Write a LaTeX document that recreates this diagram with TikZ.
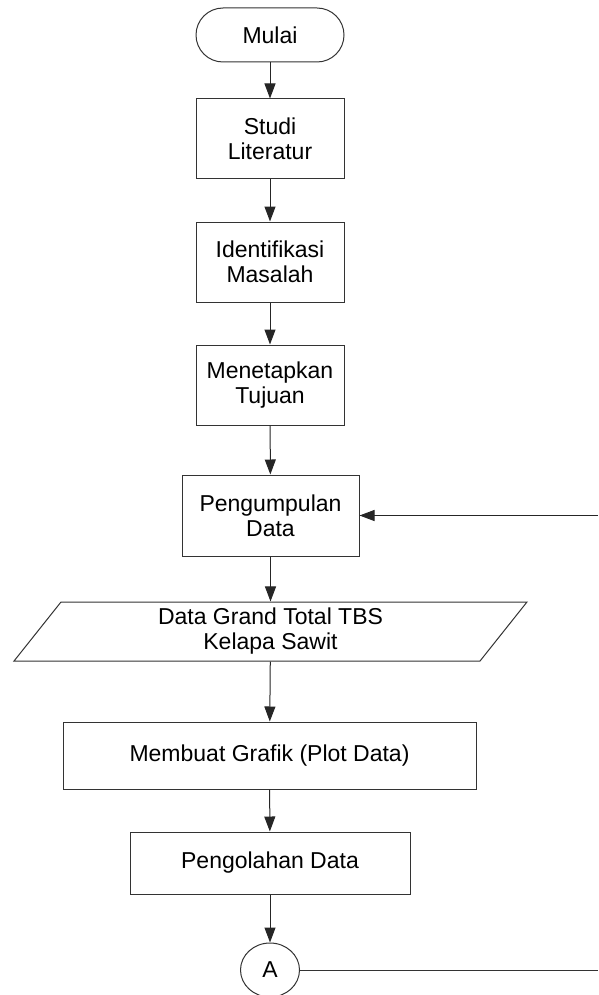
\documentclass[tikz,border=0pt]{standalone}
\usepackage{fontspec}
\setmainfont{Liberation Sans}
\usepackage{tikz}
\usetikzlibrary{shapes.geometric, arrows.meta, positioning}

\begin{document}
\begin{tikzpicture}[x=1pt, y=-1pt,
        base/.style={draw=black!80, line width=1pt, align=center, inner sep=0pt, font=\fontsize{23}{25}\selectfont},
        start/.style={base, rectangle, rounded corners=27pt, minimum width=148pt, minimum height=54pt},
        process/.style={base, rectangle, minimum width=148pt, minimum height=80pt},
        io/.style={base, trapezium, trapezium left angle=61.5, trapezium right angle=118.5, trapezium stretches=true, minimum width=515pt, minimum height=59pt},
        connector/.style={base, ellipse, minimum width=59pt, minimum height=54pt},
        arrow/.style={-{Triangle[length=15pt, width=11pt]}, line width=1pt, draw=black!85},
        line/.style={line width=1pt, draw=black!80}
    ]
    \useasboundingbox (0,0) rectangle (598,995);

    \node (mulai) at (270, 35) [start] {Mulai};

    \node (studi) at (270, 139) [process] {Studi\\Literatur};
    \node (masalah) at (270, 262) [process] {Identifikasi\\Masalah};
    \node (tujuan) at (270, 385) [process] {Menetapkan\\Tujuan};

    \node (kumpul) at (270.5, 515.5) [process, minimum width=177pt, minimum height=81pt] {Pengumpulan\\Data};

    \node (tbs) at (270.5, 631.5) [io] {Data Grand Total TBS\\Kelapa Sawit};

    \node (grafik) at (269.5, 755.5) [process, minimum width=413pt, minimum height=67pt] {Membuat Grafik (Plot Data)};
    \node (olah) at (270, 863) [process, minimum width=280pt, minimum height=62pt] {Pengolahan Data};

    \node (a) at (270, 970) [connector] {A};

    \coordinate (kembali) at (598, 515.5);
    \coordinate (lanjut) at (598, 970);

    \draw [arrow] (mulai) -- (studi);
    \draw [arrow] (studi) -- (masalah);
    \draw [arrow] (masalah) -- (tujuan);
    \draw [arrow] (tujuan) -- (kumpul);
    \draw [arrow] (kembali) -- (kumpul);
    \draw [arrow] (kumpul) -- (tbs);
    \draw [arrow] (tbs) -- (grafik);
    \draw [arrow] (grafik) -- (olah);
    \draw [arrow] (olah) -- (a);
    \draw [line] (a) -- (lanjut);

\end{tikzpicture}
\end{document}
